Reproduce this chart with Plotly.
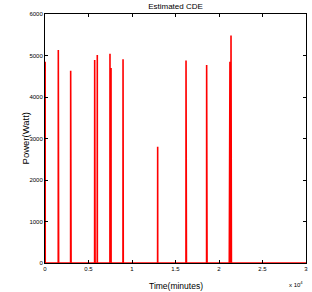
import plotly.graph_objects as go

# Spike events: time in minutes, peak power (W)
event_times = [20, 1530, 1560, 2950, 2990, 5710, 5750, 6010, 7470, 7590, 8970, 8990,
               12950, 16210, 16250, 18580, 18620, 21190, 21260, 21380, 21420]
event_peaks = [4850, 5130, 4900, 4630, 4620, 4890, 4650, 5010, 5040, 4700, 4910, 4850,
               2800, 4880, 4810, 4770, 4730, 4770, 4850, 5480, 4800]
x_tick_vals = [0, 5000, 10000, 15000, 20000, 25000, 30000]
x_tick_text = ["0", "0.5", "1", "1.5", "2", "2.5", "3"]
y_tick_vals = [0, 1000, 2000, 3000, 4000, 5000, 6000]

xs, ys = [0], [0]
for t, p in zip(event_times, event_peaks):
    xs += [t - 8, t, t + 8]
    ys += [0, p, 0]
xs.append(30000)
ys.append(0)

fig = go.Figure(go.Scatter(x=xs, y=ys, mode="lines",
                           line=dict(color="#ff0000", width=1.6)))

axis_common = dict(showline=True, linecolor="black", linewidth=1, mirror="ticks",
                   ticks="inside", ticklen=3, tickcolor="black", showgrid=False,
                   zeroline=False, automargin=False, tickfont=dict(size=6, color="black"))
fig.update_xaxes(range=[0, 30000], tickvals=x_tick_vals, ticktext=x_tick_text, **axis_common)
fig.update_yaxes(range=[0, 6000], tickvals=y_tick_vals, **axis_common)
fig.update_layout(
    width=312, height=292,
    margin=dict(l=45, r=6, t=14, b=29, autoexpand=False),
    plot_bgcolor="white", paper_bgcolor="white",
    font=dict(family="Liberation Sans, Arial, sans-serif", color="black"),
    title=dict(text="Estimated CDE", xref="paper", x=0.5, xanchor="center",
               yref="container", y=0.99, yanchor="top",
               font=dict(size=8, color="black")),
    showlegend=False,
    annotations=[
        dict(text="x 10<sup>4</sup>", xref="paper", yref="paper", x=0.995, y=-0.06,
             xanchor="right", yanchor="top", showarrow=False,
             font=dict(size=6, color="black")),
        dict(text="Time(minutes)", xref="paper", yref="paper", x=0.5, y=-0.064,
             xanchor="center", yanchor="top", showarrow=False,
             font=dict(size=8.5, color="black")),
        dict(text="Power(Watt)", xref="paper", yref="paper", x=-0.073, y=0.5,
             xanchor="center", yanchor="middle", textangle=-90, showarrow=False,
             font=dict(size=9.5, color="black")),
    ],
)
fig.write_html("out.html", config={"displayModeBar": False},
               post_script="document.body.style.margin='0';document.body.style.overflow='hidden';")
